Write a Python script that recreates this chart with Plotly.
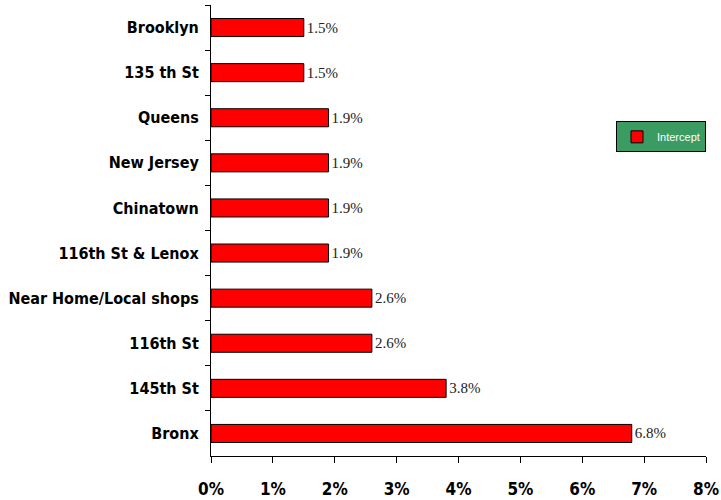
import plotly.graph_objects as go

# Share of respondents by shopping location (percent), listed top to bottom
locations = ["Brooklyn", "135 th St", "Queens", "New Jersey", "Chinatown",
             "116th St & Lenox", "Near Home/Local shops", "116th St", "145th St", "Bronx"]
intercept = [1.5, 1.5, 1.9, 1.9, 1.9, 1.9, 2.6, 2.6, 3.8, 6.8]
x_ticks = [0, 1, 2, 3, 4, 5, 6, 7, 8]

fig = go.Figure(
    go.Bar(
        x=intercept,
        y=locations,
        orientation="h",
        name="Intercept",
        width=0.4,
        marker=dict(color="#FF0000", line=dict(color="black", width=1)),
        text=[f"{v:.1f}%" for v in intercept],
        textposition="outside",
        textfont=dict(family="Liberation Serif", size=15, color="#222222"),
        cliponaxis=False,
    )
)

fig.update_layout(
    width=721,
    height=500,
    margin=dict(l=211, r=15, t=5, b=44),
    paper_bgcolor="white",
    plot_bgcolor="white",
    showlegend=True,
    legend=dict(
        x=1.0, y=0.742, xanchor="right", yanchor="top",
        bgcolor="#3a9b63", bordercolor="black", borderwidth=1,
        font=dict(family="Liberation Sans", size=11, color="white"),
        itemwidth=30,
    ),
)

fig.update_xaxes(
    range=[0, 8],
    tickvals=x_ticks,
    ticktext=[f"{t}%" for t in x_ticks],
    automargin=False,
    showgrid=False,
    zeroline=False,
    showline=True,
    linecolor="black",
    linewidth=1,
    ticks="outside",
    ticklen=6,
    tickcolor="black",
    tickfont=dict(family="DejaVu Sans Condensed", size=17, color="black", weight="bold"),
    ticklabelstandoff=12,
)

fig.update_yaxes(
    autorange="reversed",
    categoryorder="array",
    categoryarray=locations,
    automargin=False,
    showgrid=False,
    showline=True,
    linecolor="black",
    linewidth=1,
    ticks="outside",
    tickson="boundaries",
    ticklen=5,
    tickcolor="black",
    tickfont=dict(family="DejaVu Sans Condensed", size=16, color="black", weight="bold"),
    ticklabelstandoff=8,
)

fig.write_html("out.html")
